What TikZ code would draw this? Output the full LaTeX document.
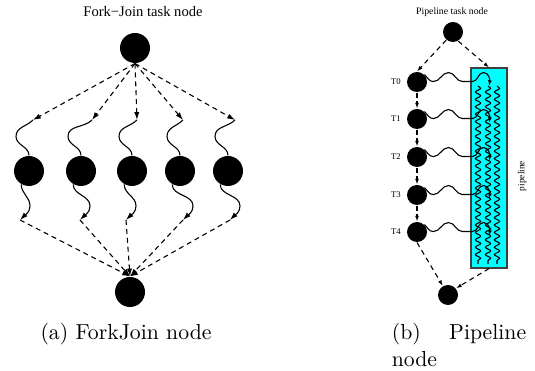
\documentclass[tikz,border=0pt]{standalone}
\usepackage{fontspec}
\newfontfamily\figfont{Liberation Serif}
\usetikzlibrary{positioning, arrows.meta, decorations.pathmorphing, calc}
\definecolor{pipecyan}{RGB}{0,255,255}

\begin{document}
\begin{tikzpicture}[x=0.46pt,y=0.46pt,>={Latex[length=3.6pt,width=2.4pt]},line width=0.5pt,
    big node/.style={circle,fill,inner sep=0pt,minimum size=13.8pt},
    small node/.style={circle,fill,inner sep=0pt,minimum size=9.2pt},
    flow/.style={->,dash pattern=on 2.3pt off 1.8pt},
    small tips/.style={>={Latex[length=2.6pt,width=1.8pt]}},
    squiggle/.style={decorate,decoration={snake,amplitude=1.2pt,segment length=3.4pt}},
    caption/.style={font=\fontsize{10}{12}\selectfont,anchor=base}]
    \useasboundingbox (0,0) rectangle (535,-371);

    % fork-join side
    \node[font=\figfont\fontsize{6.7}{8}\selectfont] (fjtitle) at (143,-12) {Fork−Join task node};
    \node[big node] (fork) at (135,-48) {};
    \node[big node] (join) at (130,-292) {};
    \foreach \i/\x/\t/\b in {1/29/4/-9, 2/81/11/-1, 3/132/5/-6, 4/180/3/3, 5/228/7/2} {
        \node[big node] (m\i) at (\x,-171) {};
        \coordinate (top\i) at (\x+\t,-120);
        \coordinate (bot\i) at (\x+\b,-220);
        \draw[flow] (fork.south) -- (top\i);
        \draw (top\i) to[out=225,in=90] ($(m\i.north)+(-13,19)$) to[out=-90,in=90] (m\i.north);
        \draw[->] (m\i.240) to[out=-90,in=90] ($(bot\i)+(10,14)$) to[out=-90,in=45] (bot\i);
        \draw[flow] (bot\i) -- (join.north);
    }
    \node[caption] (capa) at (126,-340) {(a) ForkJoin node};

    % pipeline side
    \node[font=\figfont\fontsize{4.5}{5}\selectfont] (pltitle) at (452,-12) {Pipeline task node};
    \node[small node] (start) at (453,-32) {};
    \node[small node] (end) at (448,-295) {};
    \node[draw=black!75,fill=pipecyan,inner sep=0pt,minimum width=16.56pt,minimum height=92pt] (pipe) at (489,-168) {};
    \node[font=\figfont\fontsize{4.3}{5}\selectfont,rotate=90] (plabel) at (522,-176) {pipeline};
    \foreach \x in {478,488,497}
        \draw[squiggle] (\x,-86) -- (\x,-264);
    \foreach \i/\y in {0/82,1/119,2/157,3/195,4/232} {
        \node[small node] (t\i) at (417,-\y) {};
        \node[font=\figfont\fontsize{4}{5}\selectfont] (l\i) at (396,-\y) {T\i};
        \coordinate (h\i) at (489,-\y-4);
        \draw[->,small tips] (t\i.45) to[out=-45,in=180] ++(9,-7) to[out=0,in=180] ++(15,9)
            to[out=0,in=180] ++(14,-9) -- ++(10,0) to[out=0,in=180] ++(11,9) to[out=0,in=80] (h\i);
    }
    \begin{scope}[small tips]
    \draw[flow] (start.230) -- (t0.north);
    \draw[flow] (start.300) -- (pipe.north);
    \draw[flow] (t0.south) -- (t1.north);
    \draw[flow] (t1.south) -- (t2.north);
    \draw[flow] (t2.south) -- (t3.north);
    \draw[flow] (t3.south) -- (t4.north);
    \draw[flow] (t4.south) -- (end.120);
    \draw[flow] (pipe.south) -- (end.40);
    \end{scope}
    \node[caption,anchor=base west] (capb) at (384,-340) {(b)};
    \node[caption,anchor=base east] (capc) at (534,-340) {Pipeline};
    \node[caption,anchor=base west] (capd) at (384,-366) {node};
\end{tikzpicture}
\end{document}
